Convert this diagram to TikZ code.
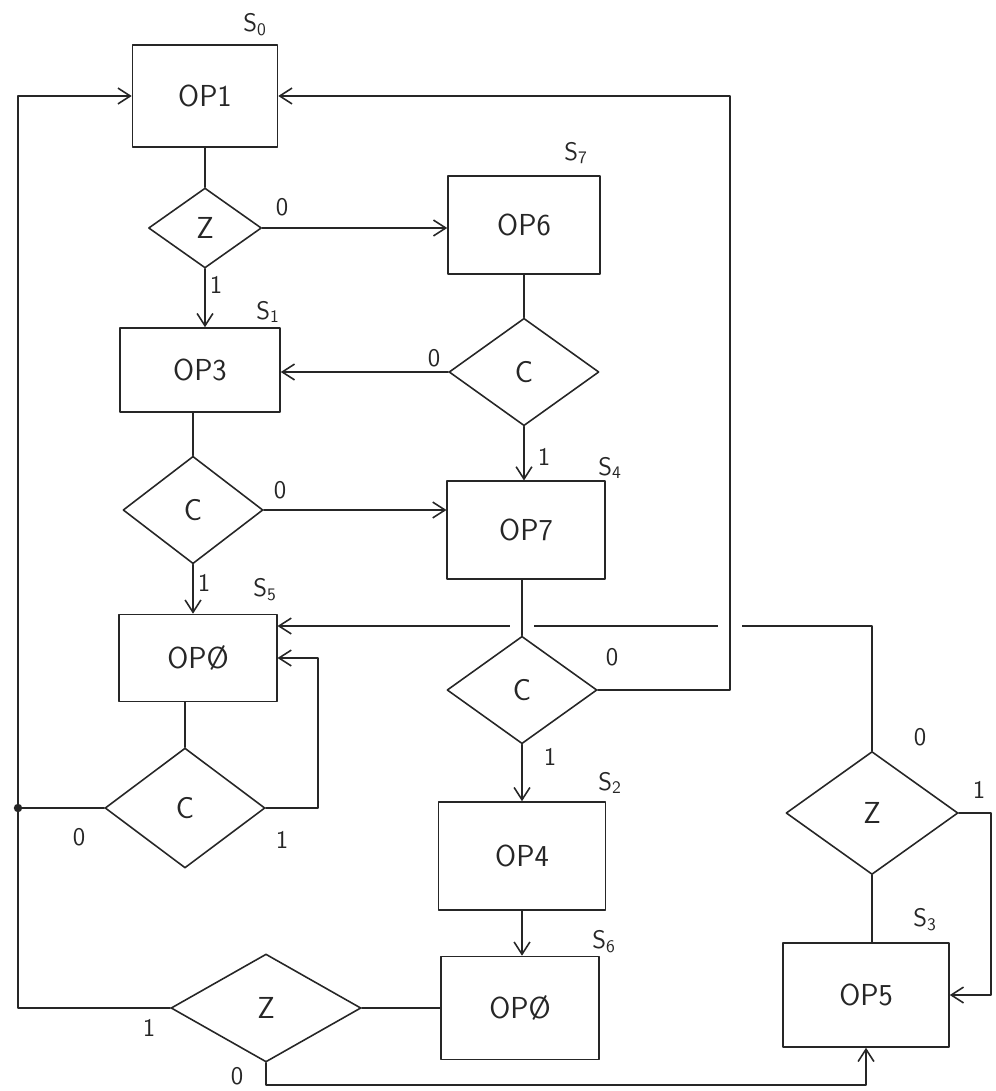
\documentclass[tikz,border=0pt]{standalone}
\usetikzlibrary{arrows.meta,shapes.geometric}
\definecolor{ink}{HTML}{262626}

\begin{document}
\begin{tikzpicture}[x=0.02cm,y=-0.02cm,ink,line width=0.9pt,line cap=round,line join=round,
    opbox/.style={draw,minimum width=3.15cm,minimum height=1.95cm,font=\sffamily\LARGE},
    test/.style={draw,diamond,aspect=1.4,inner sep=0pt,minimum width=3cm,minimum height=2.15cm,font=\sffamily\LARGE},
    statelbl/.style={font=\sffamily\Large},
    branch/.style={font=\sffamily\Large},
    flow/.style={-{Straight Barb[length=7pt,width=9pt]}},
    hop/.style={draw=white,line width=14pt,line cap=butt}]
  \useasboundingbox (0,0) rectangle (995,1091);

  \node[opbox,minimum width=2.9cm,minimum height=2.04cm] (op1) at (205,96) {OP1};
  \node[test,minimum width=2.26cm,minimum height=1.6cm] (zA) at (205,228) {Z};
  \node[opbox,minimum width=3.04cm] (op6) at (524,225) {OP6};
  \node[test] (cA) at (524,372) {C};
  \node[opbox,minimum width=3.2cm,minimum height=1.68cm] (op3) at (200,370) {OP3};
  \node[test,minimum width=2.8cm] (cB) at (193,510) {C};
  \node[opbox] (op7) at (526,530) {OP7};
  \node[opbox,minimum height=1.74cm] (opA) at (198,658) {OPØ};
  \node[test] (cC) at (522,690) {C};
  \node[test,minimum width=3.2cm,minimum height=2.4cm] (cD) at (185,808) {C};
  \node[opbox,minimum width=3.34cm,minimum height=2.16cm] (op4) at (522,856) {OP4};
  \node[opbox,minimum height=2.06cm] (opB) at (520,1008) {OPØ};
  \node[test,minimum width=3.8cm,minimum height=2.16cm] (zB) at (266,1008) {Z};
  \node[opbox,minimum width=3.32cm,minimum height=2.08cm] (op5) at (866,995) {OP5};
  \node[test,minimum width=3.44cm,minimum height=2.46cm] (zC) at (872,813) {Z};

  \node[statelbl] (s0) at (255,25) {S\textsubscript{0}};
  \node[statelbl] (s7) at (576,153) {S\textsubscript{7}};
  \node[statelbl] (s1) at (268,312) {S\textsubscript{1}};
  \node[statelbl] (s4) at (610,468) {S\textsubscript{4}};
  \node[statelbl] (s5) at (265,590) {S\textsubscript{5}};
  \node[statelbl] (s2) at (610,783) {S\textsubscript{2}};
  \node[statelbl] (s6) at (604,942) {S\textsubscript{6}};
  \node[statelbl] (s3) at (925,920) {S\textsubscript{3}};

  \node[branch] (zA0) at (282,207) {0};
  \node[branch] (zA1) at (216,285) {1};
  \node[branch] (cA0) at (434,358) {0};
  \node[branch] (cA1) at (544,457) {1};
  \node[branch] (cB0) at (280,490) {0};
  \node[branch] (cB1) at (204,583) {1};
  \node[branch] (cC0) at (612,657) {0};
  \node[branch] (cC1) at (550,757) {1};
  \node[branch] (cD0) at (79,837) {0};
  \node[branch] (cD1) at (282,840) {1};
  \node[branch] (zB1) at (149,1028) {1};
  \node[branch] (zB0) at (237,1076) {0};
  \node[branch] (zC0) at (920,737) {0};
  \node[branch] (zC1) at (979,790) {1};

  \coordinate (rejoin) at (0,626);
  \coordinate (lside) at (18,0);
  \coordinate (rside) at (991,0);
  \coordinate (back) at (730,0);
  \coordinate (loopA) at (318,0);
  \coordinate (dot) at (cD.west -| lside);

  \draw (op1.south) -- (zA.north);
  \draw[flow] (zA.east) -- (zA.east -| op6.west);
  \draw[flow] (zA.south) -- (zA.south |- op3.north);
  \draw (op6.south) -- (cA.north);
  \draw[flow] (cA.west) -- (cA.west -| op3.east);
  \draw[flow] (cA.south) -- (cA.south |- op7.north);
  \draw (cB.north |- op3.south) -- (cB.north);
  \draw[flow] (cB.east) -- (cB.east -| op7.west);
  \draw[flow] (cB.south) -- (cB.south |- opA.north);
  \draw[flow] (zC.north) |- (opA.east |- rejoin);
  \path[hop] (cC.north |- rejoin) ++(0,-7) -- ++(0,14);
  \path[hop] (back |- rejoin) ++(0,-7) -- ++(0,14);
  \draw (op7.south -| cC.north) -- (cC.north);
  \draw[flow] (cC.east) -| (back |- op1.east) -- (op1.east);
  \draw[flow] (cC.south) -- (cC.south |- op4.north);
  \draw[flow] (op4.south) -- (op4.south |- opB.north);
  \draw (cD.north |- opA.south) -- (cD.north);
  \draw[flow] (cD.east) -| (loopA |- opA.east) -- (opA.east);
  \draw (cD.west) -- (dot);
  \fill (dot) circle[radius=2.4pt];
  \draw[flow] (zB.west) -| (lside |- op1.west) -- (op1.west);
  \draw (opB.west) -- (zB.east);
  \draw[flow] (zB.south) -- ++(0,22) -| (op5.south);
  \draw (zC.south) -- (zC.south |- op5.north);
  \draw[flow] (zC.east) -| (rside |- op5.east) -- (op5.east);
\end{tikzpicture}
\end{document}
